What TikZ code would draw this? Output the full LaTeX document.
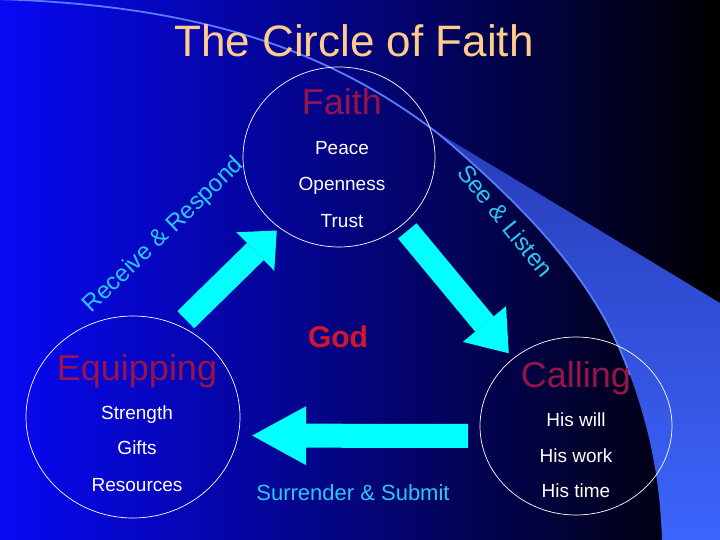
\documentclass[tikz,border=0pt]{standalone}
\usepackage{fontspec}
\setmainfont{Liberation Sans}
\usepackage{xcolor}
\usepackage{tikz}
\usetikzlibrary{arrows.meta,shapes.geometric}

\definecolor{peach}{RGB}{255,204,140}
\definecolor{wine}{RGB}{150,20,75}
\definecolor{godred}{RGB}{215,20,45}
\definecolor{skycyan}{RGB}{40,200,245}
\definecolor{arrowcyan}{RGB}{0,255,255}
\definecolor{bgblue}{RGB}{8,8,245}
\definecolor{bgmid}{RGB}{0,0,180}
\definecolor{band}{RGB}{60,100,252}
\definecolor{banddark}{RGB}{40,62,185}

\begin{document}
\begin{tikzpicture}[x=1pt, y=-1pt,
  ring/.style={draw=white, line width=0.7pt, ellipse, inner sep=0pt, outer sep=0pt},
  headline/.style={anchor=base, text=wine, font=\fontsize{36}{36}\selectfont},
  item/.style={anchor=base, text=white, font=\fontsize{19}{19}\selectfont},
  verb/.style={anchor=base, text=skycyan, font=\fontsize{24}{24}\selectfont},
  blockarr/.style={draw=arrowcyan, line width=24pt}
]
  \useasboundingbox (0,0) rectangle (720,540);

  % background and swoosh
  \shade[left color=bgblue, middle color=bgmid, right color=black] (0,0) rectangle (720,540);
  \shade[top color=banddark, middle color=band, bottom color=band]
    (440,134) -- (720,303) -- (720,540) -- (662,540)
    .. controls (660,480) and (650,430) .. (630,375)
    .. controls (600,290) and (540,220) .. (440,136) -- cycle;
  \draw[band!85!white, line width=1.8pt]
    (-5,-1) .. controls (200,5) and (330,50) .. (440,135)
    .. controls (540,220) and (600,290) .. (630,375);

  % title
  \node[anchor=base, text=peach, font=\fontsize{44}{44}\selectfont] (title) at (354,57) {The Circle of Faith};

  % the three circles
  \node[ring, minimum width=192pt, minimum height=180pt] (faith)   at (339,157) {};
  \node[ring, minimum width=214pt, minimum height=202pt] (equip)   at (133,417) {};
  \node[ring, minimum width=192pt, minimum height=178pt] (calling) at (576,426) {};

  \node[headline] (faith-h) at (342,115) {Faith};
  \node[item] (peace) at (342,155) {Peace};
  \node[item] (open)  at (342,191) {Openness};
  \node[item] (trust) at (342,227) {Trust};

  \node[headline] (equip-h)   at (137,380) {Equipping};
  \node[item] (strength)  at (137,419) {Strength};
  \node[item] (gifts)     at (137,454) {Gifts};
  \node[item] (resources) at (137,491) {Resources};

  \node[headline] (calling-h) at (576,387) {Calling};
  \node[item] (will) at (576,426) {His will};
  \node[item] (work) at (576,462) {His work};
  \node[item] (time) at (576,497) {His time};

  \node[anchor=base, text=godred, font=\bfseries\fontsize{30}{30}\selectfont] (god) at (338,347) {God};

  % Receive & Respond
  \draw[blockarr, -{Triangle[length=30pt, width=54pt, line width=0pt]},
    shorten <=9pt, shorten >=4pt] (equip.63) -- (faith.230);
  \node[verb, rotate=44] (receive) at (168,240) {Receive \& Respond};

  % See & Listen
  \draw[blockarr, -{Triangle[length=38pt, width=56pt, line width=0pt]},
    shorten <=8pt, shorten >=7pt] (faith.-47) -- (calling.133);
  \node[verb, rotate=-51] (see) at (499,226) {See \& Listen};

  % Surrender & Submit
  \draw[blockarr, -{Triangle[length=54pt, width=59pt, line width=0pt]},
    shorten <=12.6pt, shorten >=14pt] (calling.186) -- (equip.-10);
  \node[verb, font=\fontsize{22}{22}\selectfont] (surrender) at (353,500.7) {Surrender \& Submit};
\end{tikzpicture}
\end{document}
